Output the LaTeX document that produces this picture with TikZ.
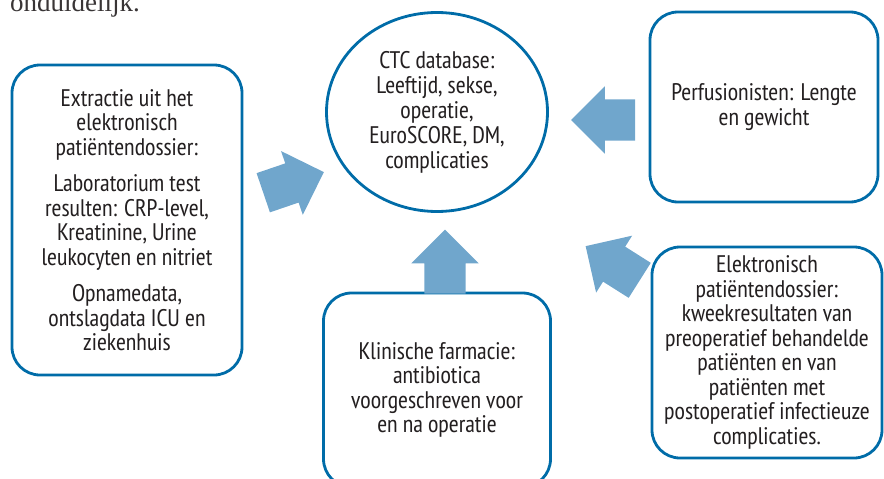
\documentclass[tikz,border=0pt]{standalone}
\usepackage{fontspec}
\setmainfont{PT Sans Narrow}
\newfontfamily\bodyserif{Liberation Serif}
\usepackage{tikz}
\usetikzlibrary{arrows}
\usetikzlibrary{positioning}
\usetikzlibrary{shapes.geometric}
\usetikzlibrary{shapes.arrows}
\definecolor{boxline}{RGB}{0,108,168}
\definecolor{arrowfill}{RGB}{112,166,204}
\definecolor{inktext}{RGB}{35,31,32}
\tikzstyle{every node}+=[inner sep=0pt]
\tikzstyle{source} = [rectangle, draw=boxline, line width=2.8pt, rounded corners=28pt, text=inktext, align=center, font=\fontsize{24}{24.5}\selectfont]
\tikzstyle{store} = [ellipse, draw=boxline, line width=2.8pt, text=inktext, align=center, font=\fontsize{24}{25}\selectfont, minimum width=221pt, minimum height=199pt]
\tikzstyle{feed} = [single arrow, fill=arrowfill, draw=none, inner ysep=20.5pt, minimum height=64pt, minimum width=67pt, single arrow head extend=13pt, anchor=tip, sloped, allow upside down, pos=1]

\begin{document}
\begin{tikzpicture}[x=1pt, y=-1pt, node distance=300pt]
            \useasboundingbox (0,0) rectangle (884,479);
            \clip (0,0) rectangle (884,479);
            % Place nodes
            \node [anchor=base west, text=inktext!90, font=\bodyserif\fontsize{27}{30}\selectfont] (cut) at (10,12) {onduidelijk.};
            \node [store] (db) at (437,112) {CTC database:\\Leeftijd, sekse,\\operatie,\\EuroSCORE, DM,\\complicaties};
            \node [source, left of=db, node distance=310pt, yshift=-108pt, minimum width=230pt, minimum height=310pt] (epd) {Extractie uit het\\elektronisch\\patiëntendossier:\\[12pt]Laboratorium test\\resulten: CRP-level,\\Kreatinine, Urine\\leukocyten en nitriet\\[12pt]Opnamedata,\\ontslagdata ICU en\\ziekenhuis};
            \node [source, right of=db, node distance=327pt, yshift=5pt, minimum width=228pt, minimum height=190pt] (perf) {Perfusionisten: Lengte\\en gewicht};
            \node [source, below of=db, node distance=278pt, minimum width=227pt, minimum height=194pt] (farm) {Klinische farmacie:\\antibiotica\\voorgeschreven voor\\en na operatie};
            \node [source, below of=perf, node distance=245.5pt, xshift=3pt, minimum width=230pt, minimum height=211pt] (kweek) {Elektronisch\\patiëntendossier:\\kweekresultaten van\\preoperatief behandelde\\patiënten en van\\patiënten met\\postoperatief infectieuze\\complicaties.};
            % Draw edges
            \path ([shift={(23.5,-28.5)}]epd.east) -- ([shift={(-1,60)}]db.west) node [feed] (f1) {};
            \path ([shift={(-16,13)}]perf.west) -- ([shift={(22,8)}]db.east) node [feed] (f2) {};
            \path ([shift={(8,0)}]farm.north) -- ([shift={(8,16.5)}]db.south) node [feed] (f3) {};
            \path ([shift={(-13,-73.5)}]kweek.west) -- ([shift={(36.5,134)}]db.east) node [feed] (f4) {};
\end{tikzpicture}
\end{document}
